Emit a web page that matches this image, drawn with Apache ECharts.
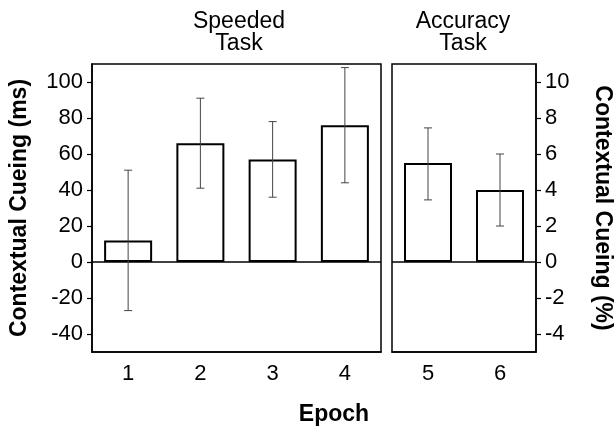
<!DOCTYPE html>
<html>
<head>
<meta charset="utf-8">
<script src="https://cdn.jsdelivr.net/npm/echarts@6/dist/echarts.min.js"></script>
<style>
  html, body { margin: 0; padding: 0; background: #fff; }
  #chart { width: 616px; height: 429px; }
</style>
</head>
<body>
<div id="chart"></div>
<script>
// speeded task (ms)
const epochsSpeeded = ["1", "2", "3", "4"];
const cueingMs = [12, 66, 57, 76];
const errLowMs = [-27, 41, 36, 44];
const errHighMs = [51, 91, 78, 108];
const ticksMs = [-40, -20, 0, 20, 40, 60, 80, 100];

// accuracy task (%)
const epochsAccuracy = ["5", "6"];
const cueingPct = [5.5, 4.0];
const errLowPct = [3.45, 2.0];
const errHighPct = [7.45, 6.0];
const ticksPct = [-4, -2, 0, 2, 4, 6, 8, 10];

const font = "'Liberation Sans', Arial, Helvetica, sans-serif";
let chart = echarts.init(document.getElementById("chart"));

function errorBar(params, api) {
  let x = api.value(0);
  let lo = api.coord([x, api.value(1)]);
  let hi = api.coord([x, api.value(2)]);
  let cap = 4;
  let style = { stroke: "#444", lineWidth: 1 };
  return {
    type: "group",
    children: [
      { type: "line", shape: { x1: lo[0], y1: lo[1], x2: hi[0], y2: hi[1] }, style: style },
      { type: "line", shape: { x1: lo[0] - cap, y1: lo[1], x2: lo[0] + cap, y2: lo[1] }, style: style },
      { type: "line", shape: { x1: hi[0] - cap, y1: hi[1], x2: hi[0] + cap, y2: hi[1] }, style: style }
    ]
  };
}

function xAxisOpt(idx, cats) {
  return {
    type: "category",
    gridIndex: idx,
    data: cats,
    axisLine: { show: true, onZero: false, lineStyle: { color: "#000", width: 1.5 } },
    axisTick: { alignWithLabel: true, length: 5, lineStyle: { color: "#000", width: 1.2 } },
    axisLabel: { color: "#000", fontSize: 22, fontFamily: font, margin: 11 }
  };
}

function yAxisOpt(idx, pos, min, max, ticks, name, gap, rot) {
  return {
    type: "value",
    gridIndex: idx,
    position: pos,
    min: min,
    max: max,
    splitLine: { show: false },
    axisLine: { show: true, lineStyle: { color: "#000", width: 1.5 } },
    axisTick: { show: true, length: 5, customValues: ticks, lineStyle: { color: "#000", width: 1.2 } },
    axisLabel: { color: "#000", fontSize: 22, fontFamily: font, margin: 9, customValues: ticks },
    name: name,
    nameLocation: "middle",
    nameGap: gap,
    nameRotate: rot,
    nameTextStyle: { color: "#000", fontSize: 23, fontWeight: "bold", fontFamily: font }
  };
}

const zeroLine = {
  silent: true,
  symbol: "none",
  label: { show: false },
  lineStyle: { color: "#000", width: 1.5, type: "solid" },
  data: [{ yAxis: 0 }]
};

const barStyle = { color: "#fff", borderColor: "#000", borderWidth: 2 };

option = {
  animation: false,
  backgroundColor: "#fff",
  textStyle: { fontFamily: font },
  grid: [
    { left: 92, right: 235, top: 64, bottom: 77, show: true, borderColor: "#000", borderWidth: 1.5 },
    { left: 392, right: 80, top: 64, bottom: 77, show: true, borderColor: "#000", borderWidth: 1.5 }
  ],
  xAxis: [xAxisOpt(0, epochsSpeeded), xAxisOpt(1, epochsAccuracy)],
  yAxis: [
    yAxisOpt(0, "left", -50, 110, ticksMs, "Contextual Cueing (ms)", 61, 90),
    yAxisOpt(1, "right", -5, 11, ticksPct, "Contextual Cueing (%)", 55, -90)
  ],
  graphic: [
    { type: "text", x: 239, y: 11, style: { text: "Speeded\nTask", font: "23px " + font, fill: "#000", textAlign: "center", textVerticalAlign: "top", lineHeight: 22 } },
    { type: "text", x: 463, y: 11, style: { text: "Accuracy\nTask", font: "23px " + font, fill: "#000", textAlign: "center", textVerticalAlign: "top", lineHeight: 22 } },
    { type: "text", x: 334, y: 403, style: { text: "Epoch", font: "bold 23px " + font, fill: "#000", textAlign: "center", textVerticalAlign: "top" } }
  ],
  series: [
    {
      type: "bar",
      xAxisIndex: 0,
      yAxisIndex: 0,
      barWidth: 48,
      data: cueingMs,
      itemStyle: barStyle,
      markLine: zeroLine
    },
    {
      type: "custom",
      xAxisIndex: 0,
      yAxisIndex: 0,
      renderItem: errorBar,
      encode: { x: 0, y: [1, 2] },
      data: cueingMs.map(function(v, i) { return [i, errLowMs[i], errHighMs[i]]; }),
      z: 5
    },
    {
      type: "bar",
      xAxisIndex: 1,
      yAxisIndex: 1,
      barWidth: 48,
      data: cueingPct,
      itemStyle: barStyle,
      markLine: zeroLine
    },
    {
      type: "custom",
      xAxisIndex: 1,
      yAxisIndex: 1,
      renderItem: errorBar,
      encode: { x: 0, y: [1, 2] },
      data: cueingPct.map(function(v, i) { return [i, errLowPct[i], errHighPct[i]]; }),
      z: 5
    }
  ]
};

chart.setOption(option);
</script>
</body>
</html>
